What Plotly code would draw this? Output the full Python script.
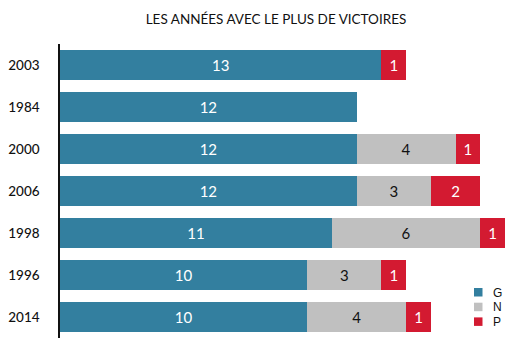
import plotly.graph_objects as go

years = ["2003", "1984", "2000", "2006", "1998", "1996", "2014"]
g_vals = [13, 12, 12, 12, 11, 10, 10]
n_vals = [0, 0, 4, 3, 6, 3, 4]
p_vals = [1, 0, 1, 2, 1, 1, 1]

colors = {"G": "#337f9f", "N": "#c0c0c0", "P": "#d31a31"}
text_colors = {"G": "white", "N": "#111111", "P": "white"}
series = [("G", g_vals), ("N", n_vals), ("P", p_vals)]

W, H = 520, 347
L, R, T, B = 52, 23, 36, 17
PW, PH = W - L - R, H - T - B

def px_x(x):
    return (x - L) / PW

def px_y(y):
    return 1 - (y - T) / PH

fig = go.Figure()
for name, vals in series:
    fig.add_trace(go.Bar(
        y=years, x=vals, name=name, orientation="h",
        marker=dict(color=colors[name], line=dict(width=0)),
        text=[str(v) if v else "" for v in vals],
        textposition="inside", insidetextanchor="middle",
        textfont=dict(color=text_colors[name], size=15, family="Lato"),
        textangle=0, hoverinfo="skip", showlegend=False,
    ))

# manual legend
shapes = []
annotations = []
for i, (name, _) in enumerate(series):
    top = 280 + i * 14.7
    shapes.append(dict(type="rect", xref="paper", yref="paper",
                       x0=px_x(466), x1=px_x(474.5), y0=px_y(top), y1=px_y(top + 8.5),
                       fillcolor=colors[name], line=dict(width=0)))
    annotations.append(dict(text=name, xref="paper", yref="paper", x=px_x(483), y=px_y(top + 4.5),
                            xanchor="left", yanchor="middle", showarrow=False,
                            font=dict(family="Liberation Sans", size=12, color="#111111")))

fig.update_layout(
    barmode="stack", bargap=0.28,
    width=W, height=H,
    margin=dict(l=L, r=R, t=T, b=B, autoexpand=False),
    plot_bgcolor="white", paper_bgcolor="white",
    title=dict(text="LES ANNÉES AVEC LE PLUS DE VICTOIRES", x=px_x(268), xref="paper", xanchor="center",
               y=1 - 11 / H, yanchor="middle",
               font=dict(family="Lato", size=13.5, color="#111111")),
    uniformtext=dict(minsize=8, mode="show"),
    showlegend=False,
    shapes=shapes, annotations=annotations,
)
fig.update_xaxes(range=[0, 18], visible=False, showgrid=False, automargin=False)
fig.update_yaxes(autorange="reversed", showline=True, linecolor="#111111", linewidth=1.5,
                 showgrid=False, ticks="", ticklabelstandoff=16, automargin=False,
                 tickfont=dict(family="Lato", size=13.5, color="#111111", weight=500))

fig.write_html("out.html")
